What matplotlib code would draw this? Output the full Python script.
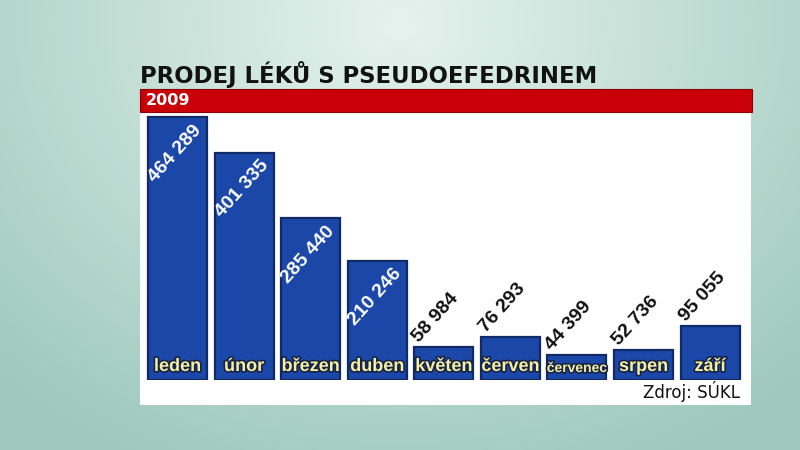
import numpy as np
import matplotlib
matplotlib.use('Agg')
from matplotlib import pyplot as plt
from matplotlib import patheffects as pe
from matplotlib.patches import Rectangle

# Data
months = ['leden', 'únor', 'březen', 'duben', 'květen',
          'červen', 'červenec', 'srpen', 'září']
sales = [464289, 401335, 285440, 210246, 58984, 76293, 44399, 52736, 95055]
value_labels = ['464 289', '401 335', '285 440', '210 246', '58 984',
                '76 293', '44 399', '52 736', '95 055']
title = 'PRODEJ LÉKŮ S PSEUDOEFEDRINEM'
year = '2009'
source = 'Zdroj: SÚKL'

W, H = 800, 450
fig = plt.figure(figsize=(8, 4.5), dpi=100)


def px(x0, y0, x1, y1):
    # pixel box (top-left origin) -> figure fraction rect
    return [x0 / W, 1 - y1 / H, (x1 - x0) / W, (y1 - y0) / H]


# background gradient, white panel and red band
bg = fig.add_axes([0, 0, 1, 1], zorder=-1)
xx, yy = np.meshgrid(np.linspace(-1, 1, 400), np.linspace(-1, 1, 225))
r = np.sqrt((xx * 0.9) ** 2 + ((yy + 0.9) * 0.6) ** 2)
t = np.clip(r / 1.3, 0, 1)
c_in = np.array([0.90, 0.95, 0.93])
c_out = np.array([0.62, 0.79, 0.74])
img = c_in[None, None, :] * (1 - t[..., None]) + c_out[None, None, :] * t[..., None]
bg.imshow(img, aspect='auto', extent=[0, 1, 0, 1], origin='upper')
bg.add_patch(Rectangle((140 / W, 1 - 405 / H), 611 / W, 293 / H,
                       facecolor='white', edgecolor='none'))
bg.add_patch(Rectangle((140 / W, 1 - 112 / H), 612 / W, 23 / H,
                       facecolor='#c90008', edgecolor='#8a0006', linewidth=0.8))
bg.set_xlim(0, 1)
bg.set_ylim(0, 1)
bg.axis('off')

fig.text(140 / W, 1 - 74 / H, title, fontsize=16.4, fontweight='bold',
         color='#111111', va='center', ha='left')
fig.text(146 / W, 1 - 100.5 / H, year, fontsize=11.5, fontweight='bold',
         color='white', va='center', ha='left')
fig.text(740 / W, 1 - 392 / H, source, fontsize=12, color='#111111',
         va='center', ha='right')

# bars
ax = fig.add_axes(px(140, 110, 750, 380), zorder=1)
ax.set_facecolor('none')
x = np.arange(len(months))
ax.bar(x, sales, width=0.885, color='#1b48a8', edgecolor='#0f2a66',
       linewidth=1.6, zorder=2)
ax.set_xlim(-0.563, 8.6)
ax.set_ylim(0, 477000)
ax.axis('off')

lab_font = ['Liberation Sans', 'DejaVu Sans']
shadow = [pe.withStroke(linewidth=2.4, foreground='#16244a')]
for i, (m, v, lab) in enumerate(zip(months, sales, value_labels)):
    fs = 10 if len(m) > 7 else 13
    ax.annotate(m, (i, 0), xytext=(0, 5), textcoords='offset pixels',
                ha='center', va='bottom', fontsize=fs, fontweight='bold',
                family=lab_font, color='#f5efa0', path_effects=shadow,
                zorder=4)
    if v > 150000:
        ax.annotate(lab, (i + 0.4425, v), xytext=(-8, -10),
                    textcoords='offset pixels', ha='right', va='center',
                    rotation=48, rotation_mode='anchor', fontsize=14,
                    fontweight='bold', family=lab_font, color='white',
                    zorder=4)
    else:
        ax.annotate(lab, (i - 0.4425, v), xytext=(5, 4),
                    textcoords='offset pixels', ha='left', va='baseline',
                    rotation=48, rotation_mode='anchor', fontsize=14,
                    fontweight='bold', family=lab_font, color='#111111',
                    zorder=4)

fig.savefig('out.png', dpi=100)
